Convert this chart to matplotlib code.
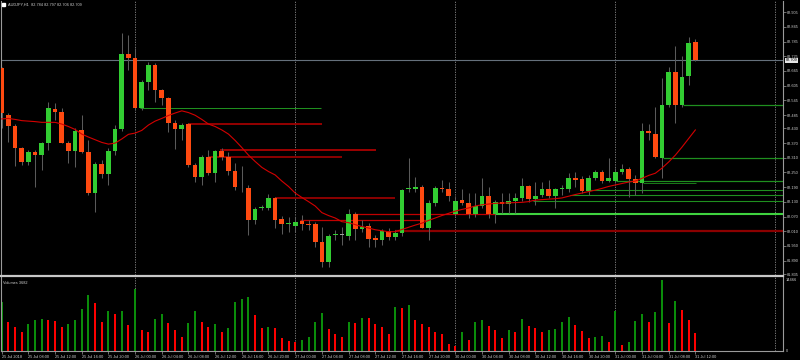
import matplotlib
matplotlib.use("Agg")
import matplotlib.pyplot as plt
from matplotlib.patches import Rectangle
from matplotlib.transforms import blended_transform_factory
import numpy as np

# AUDJPY H1 bars, 25 Jul 04:00 .. 31 Jul 12:00
opens = [82.676, 82.485, 82.440, 82.349, 82.294, 82.335, 82.321, 82.369, 82.509, 82.496,
         82.372, 82.339, 82.424, 82.335, 82.165, 82.285, 82.244, 82.339, 82.426, 82.733,
         82.717, 82.512, 82.619, 82.689, 82.587, 82.553, 82.451, 82.426, 82.447, 82.281,
         82.233, 82.312, 82.247, 82.339, 82.314, 82.257, 82.192, 82.188, 82.056, 82.105,
         82.104, 82.144, 82.059, 82.039, 82.032, 82.053, 82.038, 82.038, 81.967, 81.883,
         81.994, 81.994, 81.991, 82.080, 82.019, 82.032, 81.981, 81.974, 82.011, 81.985,
         82.004, 82.182, 82.184, 82.192, 82.024, 82.124, 82.185, 82.181, 82.080, 82.137,
         82.124, 82.080, 82.113, 82.154, 82.080, 82.131, 82.121, 82.135, 82.144, 82.195,
         82.140, 82.158, 82.181, 82.155, 82.182, 82.181, 82.226, 82.222, 82.175, 82.226,
         82.251, 82.216, 82.216, 82.253, 82.263, 82.222, 82.206, 82.419, 82.407, 82.310,
         82.526, 82.662, 82.526, 82.644, 82.784]
highs = [82.681, 82.493, 82.448, 82.356, 82.342, 82.342, 82.375, 82.539, 82.533, 82.512,
         82.379, 82.432, 82.485, 82.383, 82.293, 82.301, 82.350, 82.444, 82.820, 82.812,
         82.759, 82.628, 82.703, 82.697, 82.591, 82.558, 82.464, 82.452, 82.452, 82.289,
         82.321, 82.342, 82.342, 82.350, 82.334, 82.287, 82.276, 82.199, 82.109, 82.117,
         82.161, 82.150, 82.072, 82.068, 82.069, 82.076, 82.056, 82.048, 82.028, 81.998,
         82.015, 82.028, 82.101, 82.088, 82.056, 82.043, 81.994, 82.019, 82.023, 82.015,
         82.182, 82.308, 82.233, 82.199, 82.137, 82.195, 82.219, 82.212, 82.154, 82.182,
         82.166, 82.166, 82.226, 82.192, 82.137, 82.166, 82.166, 82.166, 82.226, 82.199,
         82.212, 82.212, 82.219, 82.186, 82.199, 82.249, 82.253, 82.236, 82.240, 82.260,
         82.260, 82.308, 82.268, 82.285, 82.272, 82.240, 82.451, 82.448, 82.519, 82.635,
         82.680, 82.767, 82.726, 82.803, 82.797]
lows = [82.431, 82.376, 82.276, 82.281, 82.281, 82.192, 82.260, 82.342, 82.464, 82.370,
        82.287, 82.274, 82.330, 82.158, 82.090, 82.227, 82.199, 82.321, 82.419, 82.669,
        82.505, 82.505, 82.587, 82.539, 82.526, 82.417, 82.345, 82.383, 82.272, 82.212,
        82.199, 82.240, 82.212, 82.301, 82.240, 82.178, 82.171, 81.994, 82.039, 82.097,
        82.097, 82.022, 81.998, 82.008, 82.008, 82.015, 82.015, 81.947, 81.865, 81.865,
        81.974, 81.953, 81.974, 81.974, 82.007, 81.947, 81.945, 81.953, 81.974, 81.974,
        81.990, 82.170, 82.170, 82.023, 81.974, 82.113, 82.170, 82.135, 82.072, 82.117,
        82.064, 82.068, 82.105, 82.064, 82.043, 82.084, 82.084, 82.084, 82.133, 82.131,
        82.117, 82.150, 82.146, 82.105, 82.158, 82.170, 82.192, 82.166, 82.158, 82.219,
        82.207, 82.211, 82.207, 82.244, 82.151, 82.158, 82.165, 82.383, 82.309, 82.227,
        82.516, 82.451, 82.519, 82.607, 82.706]
closes = [82.492, 82.440, 82.349, 82.294, 82.335, 82.321, 82.369, 82.512, 82.496, 82.372,
          82.339, 82.421, 82.335, 82.165, 82.285, 82.244, 82.339, 82.426, 82.733, 82.717,
          82.512, 82.619, 82.689, 82.587, 82.553, 82.451, 82.426, 82.444, 82.281, 82.233,
          82.312, 82.247, 82.339, 82.314, 82.257, 82.192, 82.189, 82.056, 82.101, 82.106,
          82.144, 82.056, 82.039, 82.040, 82.049, 82.039, 82.037, 81.967, 81.883, 81.991,
          81.995, 81.994, 82.080, 82.019, 82.028, 81.977, 81.974, 82.011, 81.985, 82.001,
          82.178, 82.186, 82.192, 82.024, 82.124, 82.185, 82.181, 82.155, 82.133, 82.124,
          82.080, 82.114, 82.154, 82.080, 82.131, 82.121, 82.135, 82.144, 82.195, 82.140,
          82.155, 82.181, 82.155, 82.181, 82.183, 82.226, 82.219, 82.175, 82.226, 82.251,
          82.216, 82.226, 82.253, 82.263, 82.223, 82.206, 82.421, 82.410, 82.312, 82.526,
          82.662, 82.526, 82.641, 82.780, 82.709]
volumes = [9913, 5975, 4957, 3802, 5432, 6247, 6451, 6315, 6043, 4957,
           5568, 6315, 8623, 11407, 9778, 5839, 8148, 7537, 8148, 5228,
           12562, 4210, 3938, 6586, 7605, 5704, 4278, 2852, 5704, 8148,
           5839, 4957, 5568, 3938, 4617, 10049, 10525, 11068, 7265, 4617,
           4957, 4685, 2716, 1969, 1765, 2309, 2784, 5907, 7673, 4481,
           3463, 2852, 5839, 5704, 6722, 6650, 5568, 4821, 3463, 8895,
           8850, 9302, 6315, 5432, 4957, 3938, 3395, 1426, 1019, 3870,
           2241, 5907, 6247, 5093, 4346, 2648, 4210, 3802, 6451, 5160,
           4617, 3938, 4278, 4481, 5907, 6994, 5296, 4006, 2648, 2852,
           3056, 1765, 8080, 1290, 1833, 6179, 7605, 5907, 8012, 14466,
           5636, 10117, 8352, 6315, 3682]
# moving average
ma_values = [82.469, 82.471, 82.467, 82.462, 82.460, 82.458, 82.455, 82.455, 82.455, 82.448,
             82.438, 82.426, 82.407, 82.395, 82.384, 82.373, 82.366, 82.370, 82.387, 82.406,
             82.411, 82.422, 82.444, 82.460, 82.471, 82.483, 82.493, 82.502, 82.495, 82.484,
             82.467, 82.448, 82.438, 82.424, 82.407, 82.381, 82.352, 82.321, 82.295, 82.271,
             82.254, 82.240, 82.215, 82.193, 82.166, 82.148, 82.131, 82.113, 82.086, 82.074,
             82.064, 82.049, 82.045, 82.037, 82.029, 82.023, 82.016, 82.012, 82.008, 82.008,
             82.017, 82.026, 82.035, 82.043, 82.054, 82.064, 82.074, 82.083, 82.092, 82.099,
             82.105, 82.113, 82.118, 82.121, 82.124, 82.125, 82.126, 82.127, 82.128, 82.131,
             82.137, 82.139, 82.141, 82.143, 82.146, 82.153, 82.160, 82.166, 82.172, 82.178,
             82.185, 82.193, 82.199, 82.205, 82.211, 82.215, 82.226, 82.238, 82.247, 82.268,
             82.293, 82.321, 82.354, 82.389, 82.424]

# support / resistance levels (price, first bar, last bar)
green_levels = [82.515, 82.527, 82.311, 82.216, 82.206, 82.177, 82.160, 82.135, 82.079]
green_start = [20.8, 102.1, 99.1, 92.1, 96.1, 88.2, 85.2, 79.7, 74.0]
green_end = [47.9, 118, 118, 118, 104.1, 118, 118, 118, 118]
red_levels = [82.448, 82.342, 82.314, 82.147, 82.080, 82.054, 82.012]
red_start = [27.9, 32.7, 30.9, 41.0, 52.7, 44.7, 59.0]
red_end = [48.0, 56.1, 51.0, 59.0, 74.0, 63.8, 118]

day_breaks = [20, 44, 68, 92, 116]

price_ticks = [82.905, 82.845, 82.785, 82.725, 82.665, 82.605, 82.545, 82.485, 82.430,
               82.370, 82.310, 82.250, 82.190, 82.130, 82.070, 82.010, 81.950, 81.890, 81.835]
time_ticks = list(range(0, 105, 4))
time_labels = ["25 Jul 2018", "25 Jul 08:00", "25 Jul 12:00", "25 Jul 16:00", "25 Jul 20:00",
               "26 Jul 00:00", "26 Jul 04:00", "26 Jul 08:00", "26 Jul 12:00", "26 Jul 16:00",
               "26 Jul 20:00", "27 Jul 00:00", "27 Jul 04:00", "27 Jul 08:00", "27 Jul 12:00",
               "27 Jul 16:00", "27 Jul 20:00", "30 Jul 00:00", "30 Jul 04:00", "30 Jul 08:00",
               "30 Jul 12:00", "30 Jul 16:00", "30 Jul 20:00", "31 Jul 00:00", "31 Jul 04:00",
               "31 Jul 08:00", "31 Jul 12:00"]

plt.rcParams['font.family'] = ['Liberation Sans', 'DejaVu Sans']
FS = 2.8
TXT = "#d0d0d0"
BORDER = "#9a9a9a"

fig = plt.figure(figsize=(8, 3.6), dpi=100, facecolor="black")
ax = fig.add_axes([1 / 800, 85 / 360, 782 / 800, 274 / 360], facecolor="black")
axv = fig.add_axes([1 / 800, 9 / 360, 782 / 800, 75 / 360], facecolor="black")

x = np.arange(len(opens))
o = np.array(opens)
c = np.array(closes)

# levels
green_lw = [0.75, 0.9, 0.9, 0.9, 0.6, 0.8, 0.8, 0.8, 1.5]
green_col = ["#1f8f1f"] * 8 + ["#3fd23f"]
for lev, s, e, lw, col in zip(green_levels, green_start, green_end, green_lw, green_col):
    ax.hlines(lev, s, e, color=col, lw=lw, zorder=1)
red_lw = [1.3, 1.2, 1.4, 1.4, 0.9, 0.9, 1.6]
red_col = ["#a00000", "#b80000", "#8b0000", "#8b0000", "#c00000", "#c00000", "#8b0000"]
for lev, s, e, lw, col in zip(red_levels, red_start, red_end, red_lw, red_col):
    ax.hlines(lev, s, e, color=col, lw=lw, zorder=1)

# current price line
ax.axhline(closes[-1], color="#65707c", lw=0.8, zorder=1)

# day separators
for ab in (ax, axv):
    for d in day_breaks:
        ab.axvline(d, color="#8a8a8a", lw=0.6, linestyle=(0, (1.5, 1.5)), zorder=0.5)

# candles
ax.vlines(x, lows, highs, color="#5a5a5a", lw=0.75, zorder=2)
body_h = np.maximum(np.abs(c - o), 0.0035)
body_b = np.minimum(o, c)
body_col = np.where(c > o + 0.0005, "#32cd32", np.where(c < o - 0.0005, "#ff4a10", "#a0a0a0"))
ax.bar(x, body_h, bottom=body_b, width=0.7, color=body_col, linewidth=0, zorder=3)

# moving average
ax.plot(x, ma_values, color="#d40000", lw=0.8, zorder=4)

ax.set_xlim(-0.105, 117.14)
ax.set_ylim(81.831, 82.951)
ax.set_xticks([])
ax.yaxis.tick_right()
ax.set_yticks(price_ticks)
ax.set_yticklabels([f"{p:.3f}" for p in price_ticks], fontsize=FS, color=TXT)
ax.tick_params(axis="y", length=2, width=0.5, color=BORDER, pad=0.8)
for side in ("top", "bottom"):
    ax.spines[side].set_visible(False)
for side in ("left", "right"):
    ax.spines[side].set_color(BORDER)
    ax.spines[side].set_linewidth(0.8)

# current price tag
tr = blended_transform_factory(ax.transAxes, ax.transData)
ax.text(1.003, closes[-1], f"{closes[-1]:.3f}", transform=tr, fontsize=FS, color="black",
        va="center", ha="left", zorder=6,
        bbox=dict(facecolor="#e4e4e4", edgecolor="none", pad=0.4), clip_on=False)

# volumes
vol_col = ["#0a8c0a"] + ["#0a8c0a" if volumes[i] > volumes[i - 1] else "#ff0000"
                         for i in range(1, len(volumes))]
axv.bar(x, volumes, width=0.3, color=vol_col, linewidth=0, zorder=2)
axv.set_xlim(-0.105, 117.14)
axv.set_ylim(0, 15278)
axv.yaxis.tick_right()
axv.set_yticks([14466, 0])
axv.set_yticklabels(["14466", "0"], fontsize=FS, color=TXT)
axv.tick_params(axis="y", length=0, pad=2)
axv.set_xticks(time_ticks)
axv.set_xticklabels(time_labels, fontsize=FS, color=TXT, ha="left")
axv.tick_params(axis="x", length=2, width=0.5, color=BORDER, pad=1)
axv.spines["top"].set_color("#c8c8c8")
axv.spines["top"].set_linewidth(1.6)
for side in ("left", "right", "bottom"):
    axv.spines[side].set_color(BORDER)
    axv.spines[side].set_linewidth(0.8)
axv.text(0.003, 0.93, f"Volumes {volumes[-1]}", transform=axv.transAxes,
         fontsize=FS, color=TXT, va="top", ha="left")

# header
fig.add_artist(Rectangle((2 / 800, 1 - 6 / 360), 3 / 800, 3 / 360,
                         transform=fig.transFigure, color="white"))
fig.text(7.5 / 800, 1 - 4.6 / 360,
         f"AUDJPY,H1  {opens[-1]:.3f} {highs[-1]:.3f} {lows[-1]:.3f} {closes[-1]:.3f}",
         fontsize=FS, color=TXT, va="center", ha="left")

fig.savefig("out.png", dpi=100, facecolor="black")
